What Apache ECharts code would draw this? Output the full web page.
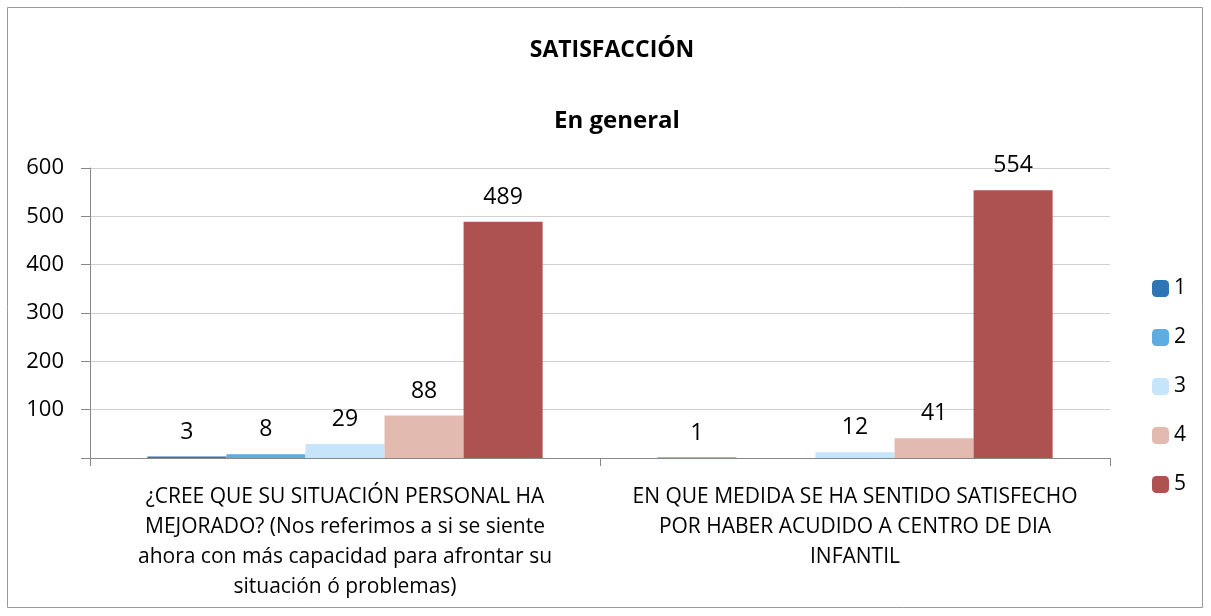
<!DOCTYPE html>
<html>
<head>
<meta charset="utf-8">
<script src="https://cdn.jsdelivr.net/npm/echarts@6/dist/echarts.min.js"></script>
<style>
  html, body { margin: 0; padding: 0; background: #fff; }
  #chart { width: 1211px; height: 616px; }
</style>
</head>
<body>
<div id="chart"></div>
<script>
// categorías (eje x)
const categories = [
  '¿CREE QUE SU SITUACIÓN PERSONAL HA\nMEJORADO? (Nos referimos a si se siente\nahora con más capacidad para afrontar su\nsituación ó problemas)',
  'EN QUE MEDIDA SE HA SENTIDO SATISFECHO\nPOR HABER ACUDIDO A CENTRO DE DIA\nINFANTIL'
];
// series 1..5
const seriesNames = ['1', '2', '3', '4', '5'];
const valores1 = [3, 1];
const valores2 = [8, null];
const valores3 = [29, 12];
const valores4 = [88, 41];
const valores5 = [489, 554];
const colores = ['#2E75B6', '#5DADE2', '#C6E4FA', '#E3BAB0', '#AD5250'];

const font = 'Open Sans, sans-serif';
const chart = echarts.init(document.getElementById('chart'));

const series = [valores1, valores2, valores3, valores4, valores5].map((vals, i) => ({
  name: seriesNames[i],
  type: 'bar',
  data: vals,
  barGap: '0%',
  barCategoryGap: '22.5%',
  itemStyle: { color: colores[i] },
  label: {
    show: true,
    position: 'top',
    distance: 13,
    color: '#000',
    fontSize: 23,
    fontFamily: font
  }
}));

chart.setOption({
  animation: false,
  title: [
    { text: 'SATISFACCIÓN', left: 607, top: 34, textAlign: 'center',
      textStyle: { fontSize: 23, fontWeight: 'bold', fontFamily: font, color: '#000' } },
    { text: 'En general', left: 612, top: 104, textAlign: 'center',
      textStyle: { fontSize: 24, fontWeight: 'bold', fontFamily: font, color: '#000' } }
  ],
  legend: {
    orient: 'vertical',
    right: 20,
    top: 273,
    itemWidth: 17,
    itemHeight: 17,
    itemGap: 28,
    textStyle: { fontSize: 21, fontFamily: font, color: '#000' },
    data: seriesNames
  },
  grid: { left: 90, right: 101, top: 168, bottom: 158 },
  xAxis: {
    type: 'category',
    data: categories,
    axisLine: { lineStyle: { color: '#888' } },
    axisTick: { show: true, length: 8, lineStyle: { color: '#888' } },
    axisLabel: {
      interval: 0, hideOverlap: false,
      fontSize: 21, fontFamily: font, color: '#000', lineHeight: 30, margin: 24
    }
  },
  yAxis: {
    type: 'value',
    min: 0,
    max: 600,
    interval: 100,
    axisLine: { show: true, lineStyle: { color: '#888' } },
    axisTick: { show: true, length: 9, lineStyle: { color: '#888' } },
    splitLine: { lineStyle: { color: '#d0d0d0' } },
    axisLabel: {
      fontSize: 22, fontFamily: font, color: '#000', margin: 26,
      formatter: v => (v === 0 ? '' : v)
    }
  },
  graphic: [{
    type: 'rect',
    shape: { x: 7.5, y: 7.5, width: 1195, height: 600 },
    style: { fill: 'none', stroke: '#999', lineWidth: 1 },
    silent: true
  }],
  series: series
});
</script>
</body>
</html>
